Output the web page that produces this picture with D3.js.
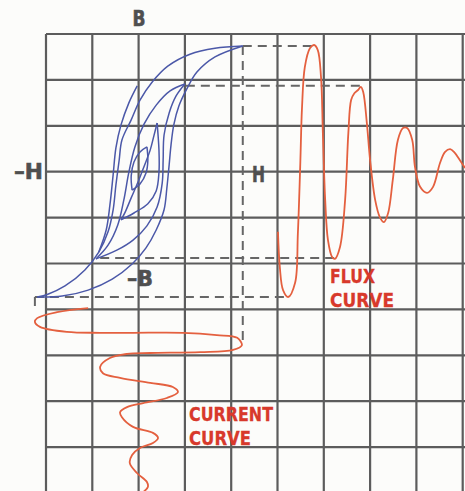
<!DOCTYPE html>
<html>
<head>
<meta charset="utf-8">
<script src="https://cdn.jsdelivr.net/npm/d3@7"></script>
<style>
  html, body { margin: 0; padding: 0; background: #fcfcfa; }
  svg { display: block; }
  .grid line { stroke: #5c5c5c; stroke-width: 2.2; }
  .guide { stroke: #666; stroke-width: 2; stroke-dasharray: 9 6; fill: none; }
  .loop { stroke: #4b58a8; stroke-width: 1.5; fill: none; }
  .wave { stroke: #e4603f; stroke-width: 1.8; fill: none; }
  .axisLabel { font-family: "DejaVu Sans", sans-serif; font-weight: bold; font-size: 21px; fill: #4f4f4f; stroke: #4f4f4f; stroke-width: 0.6; }
  .curveLabel { font-family: "DejaVu Sans", sans-serif; font-weight: bold; font-size: 20px; fill: #d8392b; stroke: #d8392b; stroke-width: 0.3; }
</style>
</head>
<body>
<div id="chart"></div>
<script>
// grid values, in cells (H across, B up)
const H_TICKS = [-2, -1, 0, 1, 2, 3, 4, 5, 6, 7];
const B_TICKS = [3, 2, 1, 0, -1, -2, -3, -4, -5, -6, -7];

// hysteresis branches as [H, B]
const loopOneDown = [[2.25,2.74],[1.65,2.69],[1.11,2.56],[0.63,2.30],[0.29,1.95],[0.03,1.56],[-0.16,1.13],[-0.36,0.69],[-0.42,0.25],[-0.49,-0.29],[-0.55,-0.83],[-0.66,-1.31],[-0.86,-1.75],[-1.16,-2.14],[-1.59,-2.49],[-1.96,-2.67],[-2.19,-2.73]];
const loopOneUp = [[-2.19,-2.73],[-1.65,-2.71],[-1.09,-2.58],[-0.57,-2.34],[-0.14,-2.01],[0.16,-1.66],[0.38,-1.27],[0.55,-0.83],[0.61,-0.36],[0.66,0.15],[0.70,0.58],[0.76,1.02],[0.87,1.43],[1.05,1.82],[1.26,2.17],[1.65,2.50],[2.25,2.74]];
const loopSpur = [[-0.03,1.87],[-0.21,1.50],[-0.38,1.02],[-0.49,0.52],[-0.55,-0.07],[-0.62,-0.73],[-0.70,-1.27],[-0.86,-1.75]];
const loopTwoDown = [[1.00,1.91],[0.68,1.76],[0.38,1.45],[0.12,1.04],[-0.08,0.54],[-0.21,-0.01],[-0.32,-0.62],[-0.45,-1.16],[-0.66,-1.60],[-0.92,-1.90]];
const loopTwoUp = [[-0.92,-1.90],[-0.47,-1.71],[-0.12,-1.49],[0.18,-1.18],[0.40,-0.77],[0.51,-0.25],[0.53,0.25],[0.55,0.80],[0.66,1.28],[0.81,1.65],[1.00,1.91]];
const loopThreeDown = [[0.40,1.06],[0.33,0.78],[0.25,0.47],[0.12,0.12],[-0.01,-0.22],[-0.16,-0.57],[-0.29,-0.88],[-0.38,-1.05]];
const loopThreeUp = [[-0.38,-1.05],[-0.10,-0.90],[0.20,-0.70],[0.38,-0.42],[0.44,-0.01],[0.44,0.47],[0.42,0.80],[0.40,1.06]];
const loopFourDown = [[0.18,0.54],[0.03,0.43],[-0.10,0.21],[-0.16,-0.09],[-0.14,-0.40]];
const loopFourUp = [[-0.14,-0.40],[0.03,-0.27],[0.16,-0.03],[0.20,0.25],[0.18,0.54]];

// flux against time, [t, B]
const fluxCurve = [[0.01,-1.31],[0.05,-2.08],[0.12,-2.58],[0.23,-2.73],[0.38,-2.42],[0.44,-1.34],[0.49,0.10],[0.53,1.41],[0.59,2.28],[0.70,2.69],[0.79,2.76],[0.87,2.65],[0.94,2.06],[0.98,0.84],[1.03,-0.62],[1.09,-1.49],[1.18,-1.86],[1.24,-1.90],[1.35,-1.64],[1.46,-0.62],[1.53,0.84],[1.59,1.56],[1.66,1.71],[1.74,1.78],[1.80,1.85],[1.85,1.74],[1.93,1.06],[2.00,0.25],[2.11,-0.62],[2.21,-0.99],[2.30,-1.10],[2.39,-0.90],[2.49,-0.18],[2.60,0.69],[2.71,0.95],[2.80,0.95],[2.91,0.69],[2.97,0.10],[3.08,-0.33],[3.23,-0.46],[3.36,-0.33],[3.51,0.19],[3.62,0.43],[3.73,0.49],[3.83,0.41],[3.94,0.25],[4.05,0.08]];

// current against time (time runs down), [H, t]
const currentCurve = [[-1.09,-0.03],[-1.76,0.06],[-2.19,0.19],[-2.24,0.27],[-2.13,0.38],[-1.55,0.49],[-0.83,0.51],[-0.12,0.51],[0.96,0.51],[1.69,0.56],[2.13,0.62],[2.23,0.78],[2.04,0.88],[1.33,0.93],[0.25,0.95],[-0.25,0.97],[-0.62,1.06],[-0.83,1.25],[-0.77,1.39],[-0.40,1.49],[0.25,1.60],[0.74,1.69],[0.85,1.80],[0.61,1.93],[0.10,2.04],[-0.25,2.13],[-0.40,2.24],[-0.36,2.35],[-0.12,2.56],[0.31,2.69],[0.42,2.80],[0.31,2.91],[0.03,3.02],[-0.14,3.17],[-0.19,3.35],[-0.03,3.57],[0.18,3.76],[0.20,3.87],[0.10,3.98]];

// dashed links: loop tip (H, B) to flux extreme at time t
const fluxGuides = [[2.25,2.74,0.79],[1.02,1.87,1.80],[-0.83,-1.88,1.24],[-2.24,-2.73,0.23]];
// dashed links: loop tip (H, B) down to current extreme at time t
const currentGuides = [[2.25,2.74,0.78],[-2.24,-2.73,0.0]];

const width = 465, height = 491;

const xScale = d3.scaleLinear().domain([-2, 7]).range([46, 462.7]);
const yScale = d3.scaleLinear().domain([3, -7]).range([34, 493]);
const fluxT = d3.scaleLinear().domain([0, 4]).range([xScale(3), xScale(7)]);
const currentT = d3.scaleLinear().domain([0, 4]).range([yScale(-3), yScale(-7)]);

const svg = d3.select("#chart").append("svg")
  .attr("width", width).attr("height", height);

svg.append("rect").attr("width", width).attr("height", height).attr("fill", "#fcfcfa");

// grid
const grid = svg.append("g").attr("class", "grid");
grid.selectAll("line.v").data(H_TICKS).join("line").attr("class", "v")
  .attr("x1", d => xScale(d)).attr("x2", d => xScale(d))
  .attr("y1", yScale(3)).attr("y2", height);
grid.selectAll("line.h").data(B_TICKS).join("line").attr("class", "h")
  .attr("x1", xScale(-2)).attr("x2", width)
  .attr("y1", d => yScale(d)).attr("y2", d => yScale(d));

// dashed guides
svg.append("g").selectAll("line").data(fluxGuides).join("line")
  .attr("class", "guide")
  .attr("x1", d => xScale(d[0])).attr("y1", d => yScale(d[1]))
  .attr("x2", d => fluxT(d[2])).attr("y2", d => yScale(d[1]));
svg.append("g").selectAll("line").data(currentGuides).join("line")
  .attr("class", "guide")
  .attr("x1", d => xScale(d[0])).attr("y1", d => yScale(d[1]))
  .attr("x2", d => xScale(d[0])).attr("y2", d => currentT(d[2]));

// hysteresis loops
const loopLine = d3.line()
  .x(d => xScale(d[0])).y(d => yScale(d[1]))
  .curve(d3.curveCatmullRom.alpha(0.5));
const branches = [loopOneDown, loopOneUp, loopSpur, loopTwoDown, loopTwoUp,
                  loopThreeDown, loopThreeUp, loopFourDown, loopFourUp];
svg.append("g").selectAll("path").data(branches).join("path")
  .attr("class", "loop")
  .attr("d", loopLine);

// flux and current
svg.append("path").attr("class", "wave")
  .datum(fluxCurve)
  .attr("d", d3.line()
    .x(d => fluxT(d[0])).y(d => yScale(d[1]))
    .curve(d3.curveCatmullRom.alpha(0.5)));
svg.append("path").attr("class", "wave")
  .datum(currentCurve)
  .attr("d", d3.line()
    .x(d => xScale(d[0])).y(d => currentT(d[1]))
    .curve(d3.curveCatmullRom.alpha(0.5)));

// labels
function label(cls, txt, x, y, len) {
  svg.append("text").attr("class", cls)
    .attr("x", x).attr("y", y)
    .attr("textLength", len).attr("lengthAdjust", "spacingAndGlyphs")
    .text(txt);
}
label("axisLabel", "B", xScale(0) - 6, yScale(3) - 8, 13);
label("axisLabel", "\u2013H", 14, yScale(0) + 7, 29);
label("axisLabel", "H", 252, yScale(0) + 10, 13);
label("axisLabel", "\u2013B", 127, yScale(-2.5), 26);
label("curveLabel", "FLUX", 330, 283, 45);
label("curveLabel", "CURVE", 330, 307, 64);
label("curveLabel", "CURRENT", 189, 421, 84);
label("curveLabel", "CURVE", 189, 445, 62);
</script>
</body>
</html>
